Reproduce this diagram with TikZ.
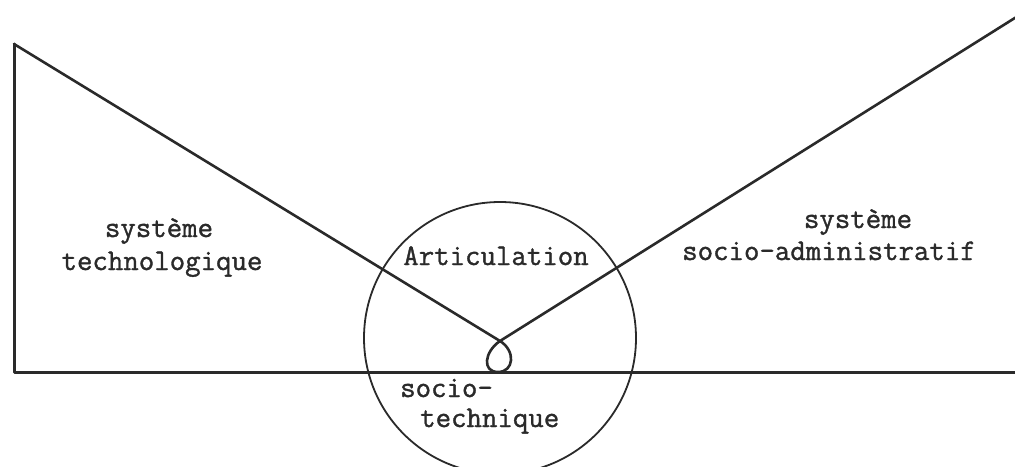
\documentclass[tikz,border=0pt]{standalone}
\usepackage{fontspec}
\newfontface\typefont{Latin Modern Mono}[FakeBold=1.2]
\definecolor{ink}{HTML}{2A2A2A}
\begin{document}
\begin{tikzpicture}[x=1pt,y=-1pt,
  stroke/.style={draw=ink,line width=2.6pt,line join=round,line cap=round},
  ring/.style={circle,draw=ink,line width=1.8pt,minimum size=272pt,inner sep=0pt},
  lbl/.style={text=ink,font=\typefont\fontsize{30}{33}\selectfont,inner sep=0pt}]
\useasboundingbox (0,0) rectangle (1015,466);
\clip (0,0) rectangle (1015,466);
\coordinate (tl) at (14,44);
\coordinate (bl) at (14,372);
\coordinate (br) at (1016,372);
\coordinate (x) at (500,341);
\coordinate (tr) at (1018,16);
\node[ring] (c) at (500,338) {};
% frame: left side and baseline
\draw[stroke,line width=3pt] (tl) -- (bl) -- (br);
% the two arms joined by a loop
\draw[stroke] (tl) -- (x) .. controls (516,351) and (514,372) .. (498,372)
  .. controls (482,372) and (484,352) .. (x) -- (tr);
% labels
\node[lbl,anchor=base] (t1) at (159,237) {système};
\node[lbl,anchor=base] (t2) at (162,270) {technologique};
\node[lbl,anchor=base] (r1) at (858,228) {système};
\node[lbl,anchor=base] (r2) at (829,260) {socio-administratif};
\node[lbl,anchor=base] (a) at (496,265) {Articulation};
\node[lbl,anchor=base west] (s1) at (400,397) {socio-};
\node[lbl,anchor=base west] (s2) at (420,427) {technique};
\end{tikzpicture}
\end{document}
